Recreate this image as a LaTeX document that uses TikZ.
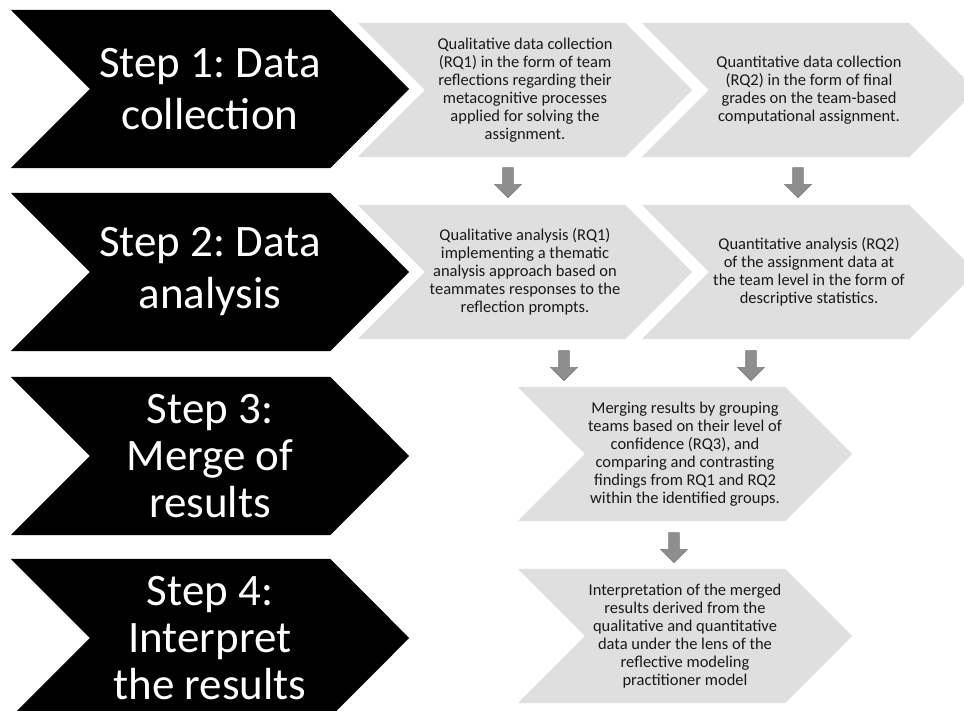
\documentclass[tikz,border=0pt]{standalone}
\usepackage{fontspec}
\setmainfont{Carlito}
\usetikzlibrary{backgrounds,shapes.arrows}
\definecolor{chevgray}{HTML}{DFDFDF}
\definecolor{dropgray}{HTML}{8E8E8E}
\definecolor{dropedge}{HTML}{7A7A7A}
% chevron behind a node: node, point depth, colour
\newcommand{\chevfill}[3]{%
  \fill[#3] ([xshift=-#2]#1.north west) -- (#1.north east) -- ([xshift=#2]#1.east)
    -- (#1.south east) -- ([xshift=-#2]#1.south west) -- (#1.west) -- cycle;}

\begin{document}
\frenchspacing
\begin{tikzpicture}[x=1pt,y=-1pt,
 steplbl/.style={text=white,align=center,inner sep=0pt,minimum width=240pt,minimum height=158pt,font=\fontsize{45}{52}\selectfont},
 tight/.style={font=\fontsize{45}{47}\selectfont},
 task/.style={text=black!90,align=center,inner sep=0pt,minimum width=200pt,minimum height=134pt,font=\fontsize{16.5}{18}\selectfont},
 drop/.style={single arrow,rotate=-90,draw=dropedge,fill=dropgray,line width=0.6pt,inner xsep=0pt,inner ysep=5pt,minimum height=30pt,single arrow head extend=8pt}]
\useasboundingbox (0,0) rectangle (964,711);
% steps
\node[steplbl] (step1) at (210,89) {Step 1: Data\\collection};
\node[steplbl] (step2) at (210,272) {Step 2: Data\\analysis};
\node[steplbl,tight] (step3) at (210,456) {Step 3:\\Merge of\\results};
\node[steplbl,tight] (step4) at (210,638) {Step 4:\\Interpret\\the results};
% tasks
\node[task] (qualcoll) at (525,90) {Qualitative data collection\\(RQ1) in the form of team\\reflections regarding their\\metacognitive processes\\applied for solving the\\assignment.};
\node[task] (quancoll) at (809,90) {Quantitative data collection\\(RQ2) in the form of final\\grades on the team-based\\computational assignment.};
\node[task] (qualana) at (525,272) {Qualitative analysis (RQ1)\\implementing a thematic\\analysis approach based on\\teammates responses to the\\reflection prompts.};
\node[task] (quanana) at (809,272) {Quantitative analysis (RQ2)\\of the assignment data at\\the team level in the form of\\descriptive statistics.};
\node[task] (merge) at (685,454) {Merging results by grouping\\teams based on their level of\\confidence (RQ3), and\\comparing and contrasting\\findings from RQ1 and RQ2\\within the identified groups.};
\node[task] (interp) at (685,636) {Interpretation of the merged\\results derived from the\\qualitative and quantitative\\data under the lens of the\\reflective modeling\\practitioner model};
% block arrows between rows
\node[drop] (d1) at (508,180) {};
\node[drop] (d2) at (798,180) {};
\node[drop] (d3) at (564,363) {};
\node[drop] (d4) at (751,363) {};
\node[drop] (d5) at (674,545) {};
\begin{scope}[on background layer]
\chevfill{step1}{79pt}{black}
\chevfill{step2}{79pt}{black}
\chevfill{step3}{79pt}{black}
\chevfill{step4}{79pt}{black}
\chevfill{qualcoll}{67pt}{chevgray}
\chevfill{quancoll}{67pt}{chevgray}
\chevfill{qualana}{67pt}{chevgray}
\chevfill{quanana}{67pt}{chevgray}
\chevfill{merge}{67pt}{chevgray}
\chevfill{interp}{67pt}{chevgray}
\end{scope}
\end{tikzpicture}
\end{document}
